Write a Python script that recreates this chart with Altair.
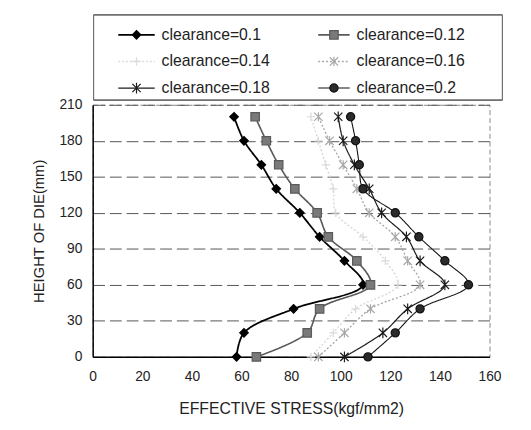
import altair as alt
import pandas as pd

# ---------------- data ----------------
heights = [0, 20, 40, 60, 80, 100, 120, 140, 160, 180, 200]
series = ["clearance=0.1", "clearance=0.12", "clearance=0.14",
          "clearance=0.16", "clearance=0.18", "clearance=0.2"]
stress_010 = [58, 61, 81, 109, 101.5, 91.5, 83.5, 74, 68, 61, 57]
stress_012 = [66, 86.5, 91.5, 112, 106.5, 95, 90.5, 81.5, 75, 70, 65.5]
stress_014 = [88, 97, 106, 123, 118, 109, 98, 97, 94, 91, 88]
stress_016 = [91, 101.5, 112, 132, 127, 122, 111.5, 106.5, 101, 95.5, 91]
stress_018 = [101.5, 117, 127, 142, 132, 126.5, 116.5, 111.5, 105.5, 101, 99]
stress_020 = [111, 122, 132, 151.5, 142, 131.5, 122, 109, 107.5, 106, 104]
x_ticks = [0, 20, 40, 60, 80, 100, 120, 140, 160]
y_ticks = [0, 30, 60, 90, 120, 150, 180, 210]

all_stress = [stress_010, stress_012, stress_014, stress_016, stress_018, stress_020]
rows = []
for name, vals in zip(series, all_stress):
    for h, v in zip(heights, vals):
        rows.append({"series": name, "h": h, "stress": v})
df = pd.DataFrame(rows)

# ---------------- styles ----------------
FONT = "Liberation Sans"
stroke_colors = ["#000000", "#5a5a5a", "#dadada", "#a8a8a8", "#1a1a1a", "#111111"]
fill_colors = ["#000000", "#7a7a7a", "#e0e0e0", "#a8a8a8", "#1a1a1a", "#2b2b2b"]
line_widths = [1.8, 1.1, 1.0, 1.0, 1.2, 1.8]
dashes = [[1, 0], [1, 0], [2, 2], [2, 2], [1, 0], [1, 0]]
plus_path = "M-1,0L1,0M0,-1L0,1"
x_path = "M-1,-1L1,1M-1,1L1,-1M0,-1.1L0,1.1"
ast_path = "M-1,-1L1,1M-1,1L1,-1M0,-1.3L0,1.3"
shapes = ["diamond", "square", plus_path, x_path, ast_path, "circle"]
sizes = [75, 70, 60, 60, 85, 105]

stroke_enc = alt.Stroke("series:N", scale=alt.Scale(domain=series, range=stroke_colors), legend=None)
fill_enc = alt.Fill("series:N", scale=alt.Scale(domain=series, range=fill_colors), legend=None)
sw_enc = alt.StrokeWidth("series:O", scale=alt.Scale(domain=series, range=line_widths), legend=None)
dash_enc = alt.StrokeDash("series:N", scale=alt.Scale(domain=series, range=dashes), legend=None)
shape_enc = alt.Shape("series:N", scale=alt.Scale(domain=series, range=shapes), legend=None)
size_enc = alt.Size("series:O", scale=alt.Scale(domain=series, range=sizes), legend=None)

W, H = 403, 256

x_enc = alt.X("stress:Q", scale=alt.Scale(domain=[0, 160], nice=False),
              axis=alt.Axis(values=x_ticks, grid=False, ticks=False, labelFlush=False,
                            domainColor="#000", domainWidth=1.5,
                            labelFontSize=14, labelPadding=13, labelColor="#222", labelFont=FONT,
                            title="EFFECTIVE STRESS(kgf/mm2)", titleFont=FONT, titleFontSize=16,
                            titleFontWeight="normal", titleColor="#222",
                            titleX=W / 2, titleY=58, titleAlign="center", titleBaseline="alphabetic"))
y_enc = alt.Y("h:Q", scale=alt.Scale(domain=[0, 210], nice=False),
              axis=alt.Axis(values=y_ticks, grid=True, gridColor="#555", gridDash=[12, 5],
                            gridWidth=1, ticks=False, domainColor="#000", domainWidth=1.5,
                            labelFontSize=14, labelPadding=11, labelColor="#222", labelFont=FONT,
                            title="HEIGHT OF DIE(mm)", titleFont=FONT, titleFontSize=15,
                            titleFontWeight="normal", titleColor="#222",
                            titleX=-55, titleY=H / 2, titleAngle=270,
                            titleAlign="center", titleBaseline="middle"))

base = alt.Chart(df)
lines = base.mark_line(interpolate="catmull-rom").encode(
    x=x_enc, y=y_enc, stroke=stroke_enc, strokeWidth=sw_enc, strokeDash=dash_enc,
    order="h:Q", detail="series:N")
points = base.mark_point(filled=True, opacity=1, strokeWidth=1.2).encode(
    x=x_enc, y=y_enc, shape=shape_enc, fill=fill_enc, stroke=stroke_enc, size=size_enc)
data_layer = alt.layer(lines, points)

# ---------------- legend (manual) ----------------
col_line = [(26, 63), (229, 261)]
row_y = [-71, -44, -17]
leg_rows = []
for i, name in enumerate(series):
    c, r = i % 2, i // 2
    x1, x2 = col_line[c]
    leg_rows.append({"series": name, "lx1": x1, "lx2": x2, "lxm": (x1 + x2) / 2,
                     "lxt": x2 + 7, "ly": row_y[r]})
leg = pd.DataFrame(leg_rows)

box = alt.Chart(leg).mark_rect(fill="white", stroke="#666", strokeWidth=1).encode(
    x=alt.value(1), x2=alt.value(416), y=alt.value(-91), y2=alt.value(-5))
leg_lines = alt.Chart(leg).mark_rule().encode(
    x=alt.X("lx1:Q", scale=None, axis=None), x2="lx2:Q",
    y=alt.Y("ly:Q", scale=None, axis=None),
    stroke=stroke_enc, strokeWidth=sw_enc, strokeDash=dash_enc)
leg_pts = alt.Chart(leg).mark_point(filled=True, opacity=1, strokeWidth=1.2).encode(
    x=alt.X("lxm:Q", scale=None, axis=None), y=alt.Y("ly:Q", scale=None, axis=None),
    shape=shape_enc, fill=fill_enc, stroke=stroke_enc, size=size_enc)
leg_text = alt.Chart(leg).mark_text(align="left", baseline="middle", fontSize=16,
                                    font=FONT, color="#222").encode(
    x=alt.X("lxt:Q", scale=None, axis=None), y=alt.Y("ly:Q", scale=None, axis=None),
    text="series:N")

chart = alt.layer(data_layer, box, leg_lines, leg_pts, leg_text).resolve_scale(
    x="independent", y="independent"
).properties(
    width=W, height=H,
    autosize=alt.AutoSizeParams(type="none"),
    padding={"left": 86, "top": 95, "right": 34, "bottom": 71},
    background="white",
).configure_view(stroke="#888", strokeDash=[5, 3])

chart.save("out.html", embed_options={"renderer": "svg", "actions": False})
